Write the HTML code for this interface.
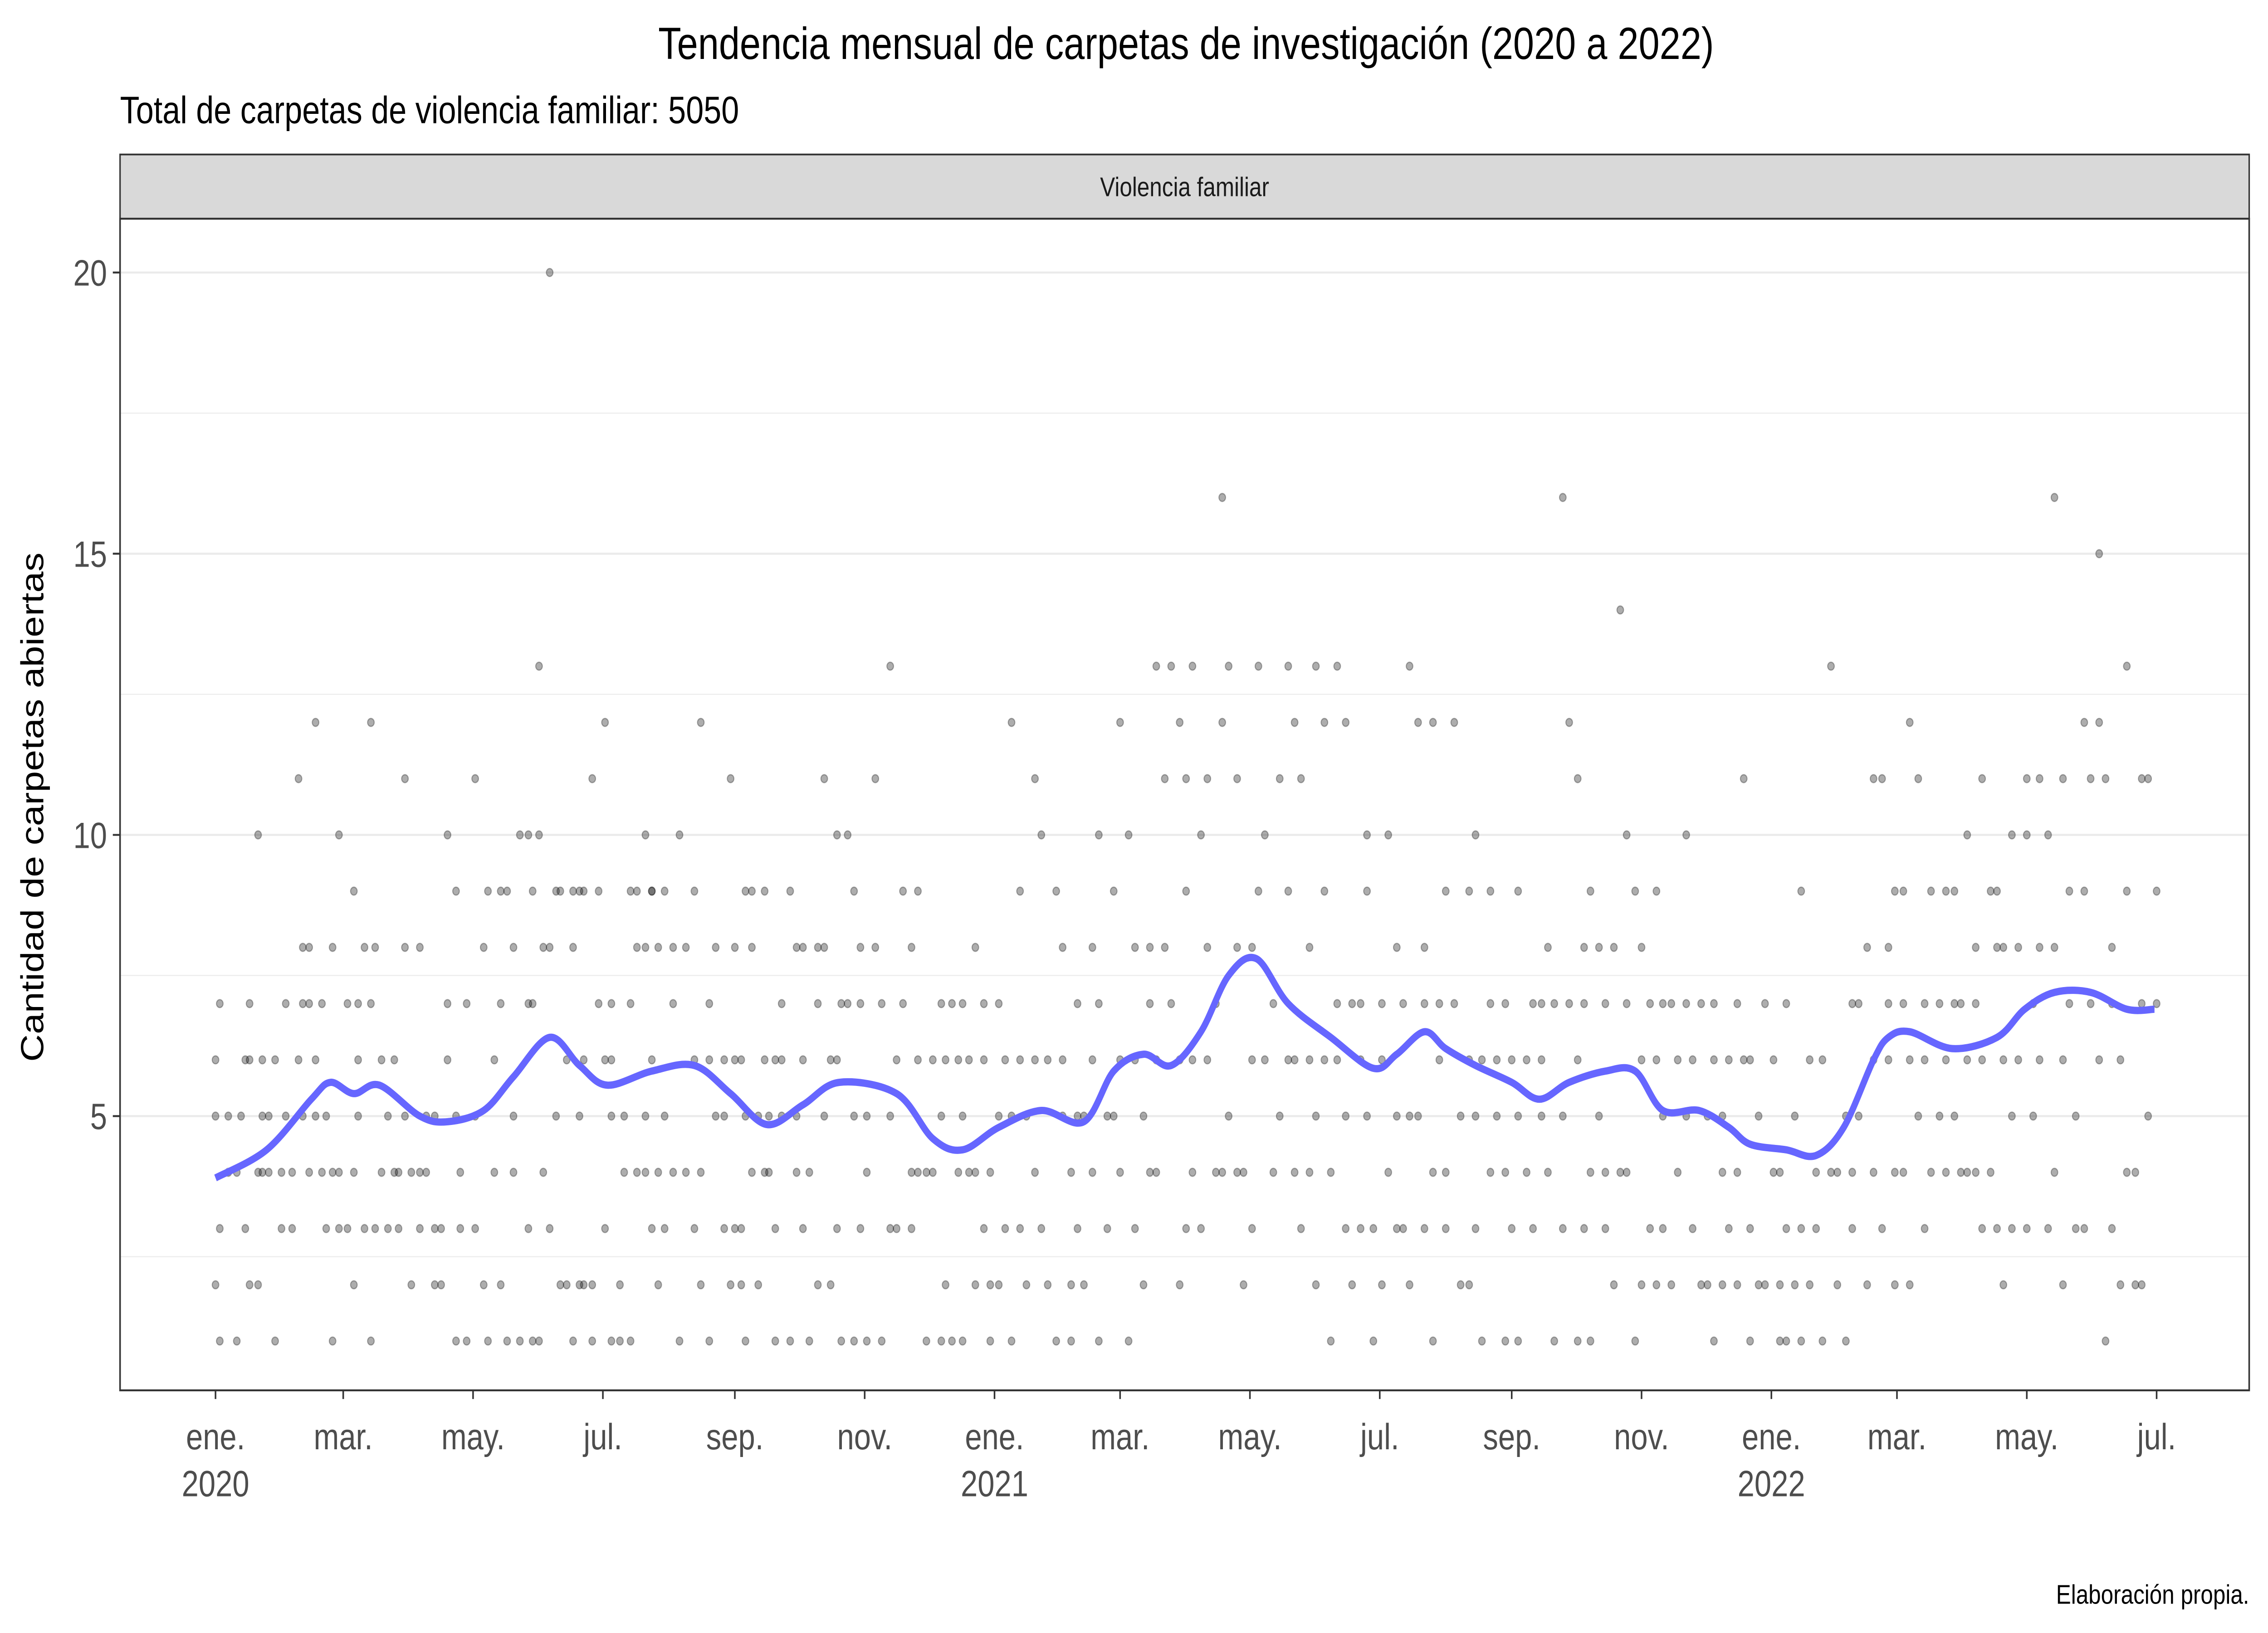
<!DOCTYPE html>
<html><head><meta charset="utf-8"><style>
html,body{margin:0;padding:0;background:#fff;width:100%;height:100%;overflow:hidden;}
svg{display:block;width:100vw;height:100vh;font-family:"Liberation Sans",Arial,sans-serif;}
</style></head><body>
<svg id="chart" viewBox="0 0 1568 940.8" preserveAspectRatio="none" xmlns="http://www.w3.org/2000/svg">
<rect x="0" y="0" width="1568" height="940.8" fill="#fff"/>
<text x="820" y="34" font-size="26" text-anchor="middle" fill="#000">Tendencia mensual de carpetas de investigación (2020 a 2022)</text>
<text x="83" y="71" font-size="22" fill="#000">Total de carpetas de violencia familiar: 5050</text>
<rect x="83" y="89" width="1472" height="37" fill="#d9d9d9" stroke="#333" stroke-width="1"/>
<text x="819" y="113" font-size="15.5" text-anchor="middle" fill="#1a1a1a">Violencia familiar</text>
<g id="grid"></g>
<g id="points"></g>
<g id="smooth"></g>
<rect x="83" y="126" width="1472" height="675" fill="none" stroke="#333" stroke-width="1.1"/>
<g id="axes"></g>
<text transform="translate(30,465) rotate(-90)" font-size="22" text-anchor="middle" fill="#000">Cantidad de carpetas abiertas</text>
<text x="1555" y="924" font-size="15.5" text-anchor="end" fill="#000">Elaboración propia.</text>
</svg>
<script>
const yTicks = [5, 10, 15, 20];
const yMinor = [2.5, 7.5, 12.5, 17.5];
const monthTicks = [0, 60, 121, 182, 244, 305, 366, 425, 486, 547, 609, 670, 731, 790, 851, 912];
const monthLabels = ["ene.","mar.","may.","jul.","sep.","nov.","ene.","mar.","may.","jul.","sep.","nov.","ene.","mar.","may.","jul."];
const yearLabels = ["2020","","","","","","2021","","","","","","2022","","",""];
const smoothDays = [0,24,45,54,65,77,96,109,126,140,157,171,184,205,225,242,259,276,293,320,337,351,368,388,408,422,436,449,463,476,489,504,524,544,555,568,578,592,609,622,636,653,667,680,697,711,721,738,752,765,779,786,796,816,837,850,864,881,898,911];
const smoothVals = [3.9,4.4,5.3,5.6,5.4,5.55,5.0,4.9,5.1,5.7,6.4,5.9,5.55,5.8,5.9,5.4,4.85,5.2,5.6,5.4,4.6,4.4,4.8,5.1,4.9,5.8,6.1,5.9,6.5,7.5,7.8,7.0,6.4,5.85,6.1,6.5,6.2,5.9,5.6,5.3,5.6,5.8,5.8,5.1,5.1,4.8,4.5,4.4,4.3,4.8,6.0,6.4,6.5,6.2,6.4,6.9,7.2,7.2,6.9,6.9];
const pointDays = [0,2,6,10,12,14,16,20,22,25,28,31,33,36,39,41,44,47,50,52,55,58,62,65,67,70,73,75,78,81,84,86,89,92,96,99,103,106,109,113,115,118,122,126,128,131,134,137,140,143,147,149,152,154,157,160,162,165,168,171,173,177,180,183,186,190,192,195,198,202,205,208,211,215,218,221,225,228,232,235,239,242,244,247,249,252,255,258,260,263,266,270,273,276,279,283,286,289,292,294,297,300,303,306,310,313,317,320,323,327,330,334,337,341,343,346,349,351,354,357,361,364,368,371,374,378,381,385,388,391,395,398,402,405,408,412,415,419,422,425,429,432,436,439,442,446,449,453,456,459,463,466,470,473,476,480,483,487,490,493,497,500,504,507,510,514,517,521,524,527,531,534,538,541,544,548,551,555,558,561,565,568,572,575,578,582,585,589,592,595,599,602,606,609,612,616,619,623,626,629,633,636,640,643,646,650,653,657,660,663,667,670,674,677,680,684,687,691,694,698,701,704,708,711,715,718,721,725,728,732,735,738,742,745,749,752,755,759,762,766,769,772,776,779,783,786,789,793,796,800,803,806,810,813,817,820,823,827,830,834,837,840,844,847,851,854,857,861,864,868,871,874,878,881,885,888,891,895,898,902,905,908,912];
const pointVals = [[6,5,2],[1,3,7],[5,4],[4,1],[5],[3,6],[6,7,2],[10,2,4],[6,5,4],[4,5],[6,1],[3,4],[7,5],[3,4],[11,6],[8,7,5],[4,8,7],[12,6,5],[7,4],[3,5],[8,4,1],[10,3,4],[7,3],[2,9,4],[6,7,5],[8,3],[7,1,12],[8,3],[6,4],[5,3],[6,4],[3,4],[11,8,5],[4,2],[8,3,4],[5,4],[2,3,5],[3,2],[6,10,7],[9,1,5],[4,3],[7,1],[11,3,5],[8,2],[9,1],[4,6],[9,7,2],[9,1],[5,4,8],[10,1],[10,3,7],[1,9,7],[13,10,1],[8,4],[20,8,3],[9,5],[2,9],[2,6],[8,1,9],[9,5,2],[6,9,2],[11,2,1],[9,7],[3,12,6],[1,7,5,6],[2,1],[4,5],[9,1,7],[9,4,8],[10,8,4,5],[9,9,3,6],[4,2,8],[9,5,3],[8,4,7],[10,1],[4,8],[9,6,3],[12,2,4],[7,1,6],[8,5],[3,6,5],[11,2],[8,3,6],[6,2,3],[9,1,5],[8,4,9],[2,5],[9,6,4],[5,4],[6,3,1],[7,6,5],[9,1],[8,4,5],[6,3,8],[4,1],[7,2,8],[8,11,5],[2,6],[10,6,3],[7,1],[10,7],[9,5,1],[3,7,8],[4,1,5],[11,8],[7,1],[13,5,3],[6,3],[9,7],[8,3,4],[9,6,4],[4,1],[6,4],[7,1,5],[2,6],[7,1],[4,6],[7,1,5],[6,4],[8,4,2],[7,6,3],[4,1,2],[2,5,7],[6,3],[12,5,1],[9,6,3],[2,5],[4,11,6],[10,3],[6,2],[9,1],[8,5,6],[4,1,2],[7,3,5],[5,2],[6,8,4],[10,1,7],[3,5],[5,9],[12,4,6],[10,1],[8,6,3],[5,2],[8,4,7],[6,13,4],[11,8],[13,7],[12,2,6],[11,3,9],[13,6,4],[10,3],[11,8,6],[7,4],[16,12,4],[13,5],[11,8,4],[4,2],[6,8,3],[13,9],[10,6],[7,4],[11,5],[6,13,9],[12,4,6],[11,3],[4,6,8],[13,5,2],[12,9,6],[4,1],[13,6,7],[12,5,3],[7,2],[7,3,6],[10,9,5],[3,1],[7,6,2],[4,10],[5,3,8],[7,3],[13,2,5],[12,5],[7,8,3],[12,4,1],[7,6],[9,3,4],[12,7],[5,2],[6,9,2],[10,5,3],[6,1],[9,7,4],[5,6],[7,4,1],[6,3],[5,9,1],[6,4],[3,7],[6,7,5],[8,4],[7,1],[16,5,3],[12,7],[11,6,1],[7,8,3],[9,4,1],[5,8],[7,4,3],[8,2],[14,4],[4,7,10],[9,1],[6,8,2],[7,3],[6,9,2],[5,7,3],[7,2],[4,6],[10,7,5],[6,3],[7,2],[5,2],[6,7,1],[4,2,5],[6,3],[2,7,4],[6,11],[6,1,3],[2,5],[7,2],[4,6],[2,4,1],[7,3,1],[2,5],[9,1,3],[6,2],[4,3],[6,1],[13,4],[4,2],[5,1],[7,3,4],[7,5],[8,2],[11,4,6],[11,3],[6,7,8],[9,4,2],[7,9,4],[12,6,2],[11,5],[7,6,3],[9,4],[5,7],[6,4,9],[9,5,7],[7,4],[10,6,4],[8,7,4],[11,6,3],[9,4],[9,3,8],[8,6,2],[10,5,3],[8,6],[11,10,3],[5,7],[11,8,6],[10,3],[16,8,4],[11,6,2],[9,7],[5,3],[12,3,9],[11,7],[15,12,6],[1,11],[8,7,3],[2,6],[13,9,4],[4,2],[11,7,2],[11,5],[9,7]];

const NS = "http://www.w3.org/2000/svg";
const X0 = 149, X1 = 1491, D1 = 912;
function xScale(d){ return X0 + (X1 - X0) * d / D1; }
function yScale(v){ return 643 - (v - 5) * 32.4; }
function mk(tag, attrs, parent){ const e = document.createElementNS(NS, tag); for (const k in attrs) e.setAttribute(k, attrs[k]); parent.appendChild(e); return e; }

const grid = document.getElementById('grid');
yMinor.forEach(v => {
  const l = mk('line', {x1:83, x2:1555, y1:yScale(v), y2:yScale(v), stroke:'#ebebeb', 'stroke-width':0.6}, grid);
  
  
});
yTicks.forEach(v => {
  const l = mk('line', {x1:83, x2:1555, y1:yScale(v), y2:yScale(v), stroke:'#ebebeb', 'stroke-width':1.2}, grid);
  
  
});

const pts = document.getElementById('points');
pointDays.forEach((d, i) => {
  pointVals[i].forEach(v => {
    const c = mk('circle', {cx:xScale(d), cy:yScale(v), r:2.3, fill:'rgba(0,0,0,0.32)', stroke:'rgba(0,0,0,0.3)', 'stroke-width':0.7}, pts);
    
    
  });
});

const sm = document.getElementById('smooth');
const P = smoothDays.map((d, i) => [xScale(d), yScale(smoothVals[i])]);
let dstr = 'M' + P[0][0] + ',' + P[0][1];
for (let i = 0; i < P.length - 1; i++) {
  const p0 = P[Math.max(0, i-1)], p1 = P[i], p2 = P[i+1], p3 = P[Math.min(P.length-1, i+2)];
  const c1x = p1[0] + (p2[0]-p0[0])/6, c1y = p1[1] + (p2[1]-p0[1])/6;
  const c2x = p2[0] - (p3[0]-p1[0])/6, c2y = p2[1] - (p3[1]-p1[1])/6;
  dstr += ' C' + c1x + ',' + c1y + ' ' + c2x + ',' + c2y + ' ' + p2[0] + ',' + p2[1];
}
const line = mk('path', {d:dstr, fill:'none', stroke:'#6666ff', 'stroke-width':4.2, 'stroke-linejoin':'round'}, sm);



const ax = document.getElementById('axes');
yTicks.forEach(v => {
  const t = mk('line', {x1:78, x2:83, y1:yScale(v), y2:yScale(v), stroke:'#333', 'stroke-width':1.1}, ax);
  
  
  const tx = mk('text', {x:74, y:yScale(v)+7.5, 'font-size':21, 'text-anchor':'end', fill:'#4d4d4d'}, ax);
  tx.textContent = v;
  
  
});
monthTicks.forEach((d, i) => {
  const x = xScale(d);
  const t = mk('line', {x1:x, x2:x, y1:801, y2:806, stroke:'#333', 'stroke-width':1.1}, ax);
  
  
  const tx = mk('text', {x:x, y:835, 'font-size':21, 'text-anchor':'middle', fill:'#4d4d4d'}, ax);
  tx.textContent = monthLabels[i];
  
  
  if (yearLabels[i]) {
    const ty = mk('text', {x:x, y:862, 'font-size':21, 'text-anchor':'middle', fill:'#4d4d4d'}, ax);
    ty.textContent = yearLabels[i];
    
    
  }
});
</script>
</body></html>
